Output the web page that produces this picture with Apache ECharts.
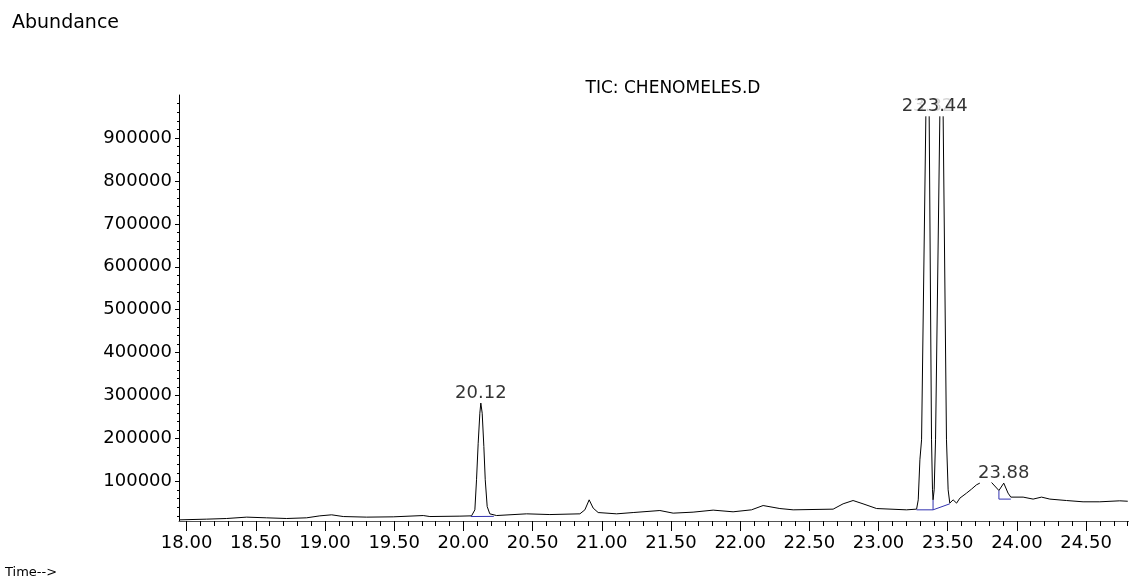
<!DOCTYPE html>
<html>
<head>
<meta charset="utf-8">
<script src="https://cdn.jsdelivr.net/npm/echarts@6/dist/echarts.min.js"></script>
<style>
  html, body { margin: 0; padding: 0; background: #fff; }
  #main { width: 1129px; height: 583px; }
</style>
</head>
<body>
<div id="main"></div>
<script>
// TIC trace, time (min) and abundance; null = open top / gap
var times = [17.952, 18.145, 18.289, 18.434, 18.578, 18.723, 18.867, 18.963, 19.048, 19.132,
  19.301, 19.493, 19.710, 19.758, 19.975, 20.059, 20.083, 20.095, 20.107, 20.119,
  20.126, 20.136, 20.148, 20.158, 20.172, 20.191, 20.240, 20.457, 20.625, 20.842,
  20.878, 20.909, 20.938, 20.974, 21.107, 21.227, 21.420, 21.516, 21.660, 21.805,
  21.949, 22.082, 22.166, 22.287, 22.383, 22.672, 22.744, 22.816, 22.888, 22.986,
  23.202, 23.275, 23.287, 23.299, 23.311, 23.342, 23.354, 23.366, 23.383, 23.390,
  23.394, 23.402, 23.412, 23.443, 23.455, 23.467, 23.491, 23.503, 23.515, 23.539,
  23.564, 23.588, 23.636, 23.672, 23.708, 23.732, 23.775, 23.817, 23.870, 23.905,
  23.936, 23.956, 24.045, 24.117, 24.178, 24.238, 24.358, 24.478, 24.599, 24.743, 24.801];
var abundance = [10700, 12300, 13800, 17000, 15400, 13800, 15400, 20000, 22400, 18400,
  17000, 17700, 20700, 18400, 19300, 20000, 34000, 104000, 189000, 259000,
  282600, 259000, 181500, 104000, 41700, 24700, 20700, 24700, 23000, 24700,
  34000, 57300, 38000, 27700, 24700, 27700, 32400, 26300, 28600, 33300,
  29400, 34000, 44000, 37000, 34000, 35600, 48000, 55700, 48000, 37000,
  34000, 35600, 57300, 150500, 197000, 950400, null, 950400, 197000, 80600,
  57300, 80600, 197000, 950400, null, 950400, 197000, 80600, 49600, 57300,
  49600, 61300, 72900, 82200, 92300, 96200, null, 97600, 79000, 96200,
  72900, 63600, 63600, 59000, 63600, 59000, 55700, 52700, 52700, 55000, 54000];

// integration baselines (blue)
var baseTimes  = [20.054, 20.220, 21.000, 23.275, 23.394, 23.394, 23.400, 23.394, 23.515, 23.700, 23.870, 23.870, 23.956];
var baseValues = [18400, 18800, null, 34000, 34000, 57300, null, 34000, 48000, null, 79000, 59000, 59000];

// peak labels
var peakTimes   = [20.126, 23.354, 23.455, 23.905];
var peakHeights = [282600, 950400, 950400, 96200];
var peakLabels  = ['20.12', '23.32', '23.44', '23.88'];

// axis ticks
var xTicks = [18.0, 18.5, 19.0, 19.5, 20.0, 20.5, 21.0, 21.5, 22.0, 22.5, 23.0, 23.5, 24.0, 24.5];
var yTicks = [100000, 200000, 300000, 400000, 500000, 600000, 700000, 800000, 900000];

var xMinor = [];
for (var i = 0; i <= 68; i++) xMinor.push(Math.round(180 + i) / 10);
var yMinor = [];
for (var j = 1; j <= 49; j++) yMinor.push(j * 20000);

var X_MIN = 17.945, X_MAX = 24.81;
var Y_MIN = 8000, Y_MAX = 1000000;
var FONT = 'DejaVu Sans';

function pairs(xs, ys) {
  return xs.map(function (x, k) { return [x, ys[k]]; });
}

var myChart = echarts.init(document.getElementById('main'));

var option = {
  animation: false,
  backgroundColor: '#fff',
  grid: { left: 179, top: 95, right: 0, bottom: 62 },
  xAxis: [{
    type: 'value', min: X_MIN, max: X_MAX, position: 'bottom',
    axisLine: { lineStyle: { color: '#555', width: 1 } },
    axisTick: { customValues: xTicks, length: 10, lineStyle: { color: '#000' } },
    axisLabel: {
      customValues: xTicks, margin: 13, color: '#000', fontFamily: FONT, fontSize: 18,
      formatter: function (v) { return v.toFixed(2); }
    },
    splitLine: { show: false }
  }, {
    type: 'value', min: X_MIN, max: X_MAX, position: 'bottom',
    axisLine: { show: false },
    axisTick: { customValues: xMinor, length: 5, lineStyle: { color: '#000' } },
    axisLabel: { show: false },
    splitLine: { show: false }
  }],
  yAxis: [{
    type: 'value', min: Y_MIN, max: Y_MAX, position: 'left',
    axisLine: { show: true, lineStyle: { color: '#000', width: 1 } },
    axisTick: { show: true, customValues: yTicks, length: 4, lineStyle: { color: '#000' } },
    axisLabel: {
      customValues: yTicks, margin: 7, color: '#000', fontFamily: FONT, fontSize: 18,
      formatter: function (v) { return String(v); }
    },
    splitLine: { show: false }
  }, {
    type: 'value', min: Y_MIN, max: Y_MAX, position: 'left',
    axisLine: { show: false },
    axisTick: { show: true, customValues: yMinor, length: 2, lineStyle: { color: '#000' } },
    axisLabel: { show: false },
    splitLine: { show: false }
  }],
  graphic: [
    { type: 'text', left: 12, top: 14,
      style: { text: 'Abundance', font: '19px "DejaVu Sans"', fill: '#000' } },
    { type: 'text', x: 673, y: 89,
      style: { text: 'TIC: CHENOMELES.D', font: '17px "DejaVu Sans"', fill: '#000',
               align: 'center', verticalAlign: 'middle', textAlign: 'center', textVerticalAlign: 'middle' } },
    { type: 'text', left: 5, top: 566,
      style: { text: 'Time-->', font: '13px "DejaVu Sans"', fill: '#000' } }
  ],
  series: [{
    type: 'line',
    data: pairs(times, abundance),
    symbol: 'none',
    connectNulls: false,
    lineStyle: { color: '#000', width: 1 },
    z: 3
  }, {
    type: 'line',
    data: pairs(baseTimes, baseValues),
    symbol: 'none',
    connectNulls: false,
    lineStyle: { color: '#3232b0', width: 1 },
    z: 4
  }, {
    type: 'scatter',
    symbolSize: 0,
    data: [0, 1, 3].map(function (k) { return { value: [peakTimes[k], peakHeights[k]], name: peakLabels[k] }; }),
    label: {
      show: true, position: 'top', distance: 1, color: '#000',
      fontFamily: FONT, fontSize: 18,
      formatter: function (p) { return p.name; }
    },
    z: 5
  }, {
    type: 'scatter',
    symbolSize: 0,
    data: [{ value: [peakTimes[2], peakHeights[2]], name: peakLabels[2] }],
    label: {
      show: true, position: 'top', distance: 1, color: '#000',
      fontFamily: FONT, fontSize: 18, backgroundColor: '#fff', padding: [0, 1, 0, 2],
      formatter: function (p) { return p.name; }
    },
    z: 6
  }]
};

myChart.setOption(option);
</script>
</body>
</html>
